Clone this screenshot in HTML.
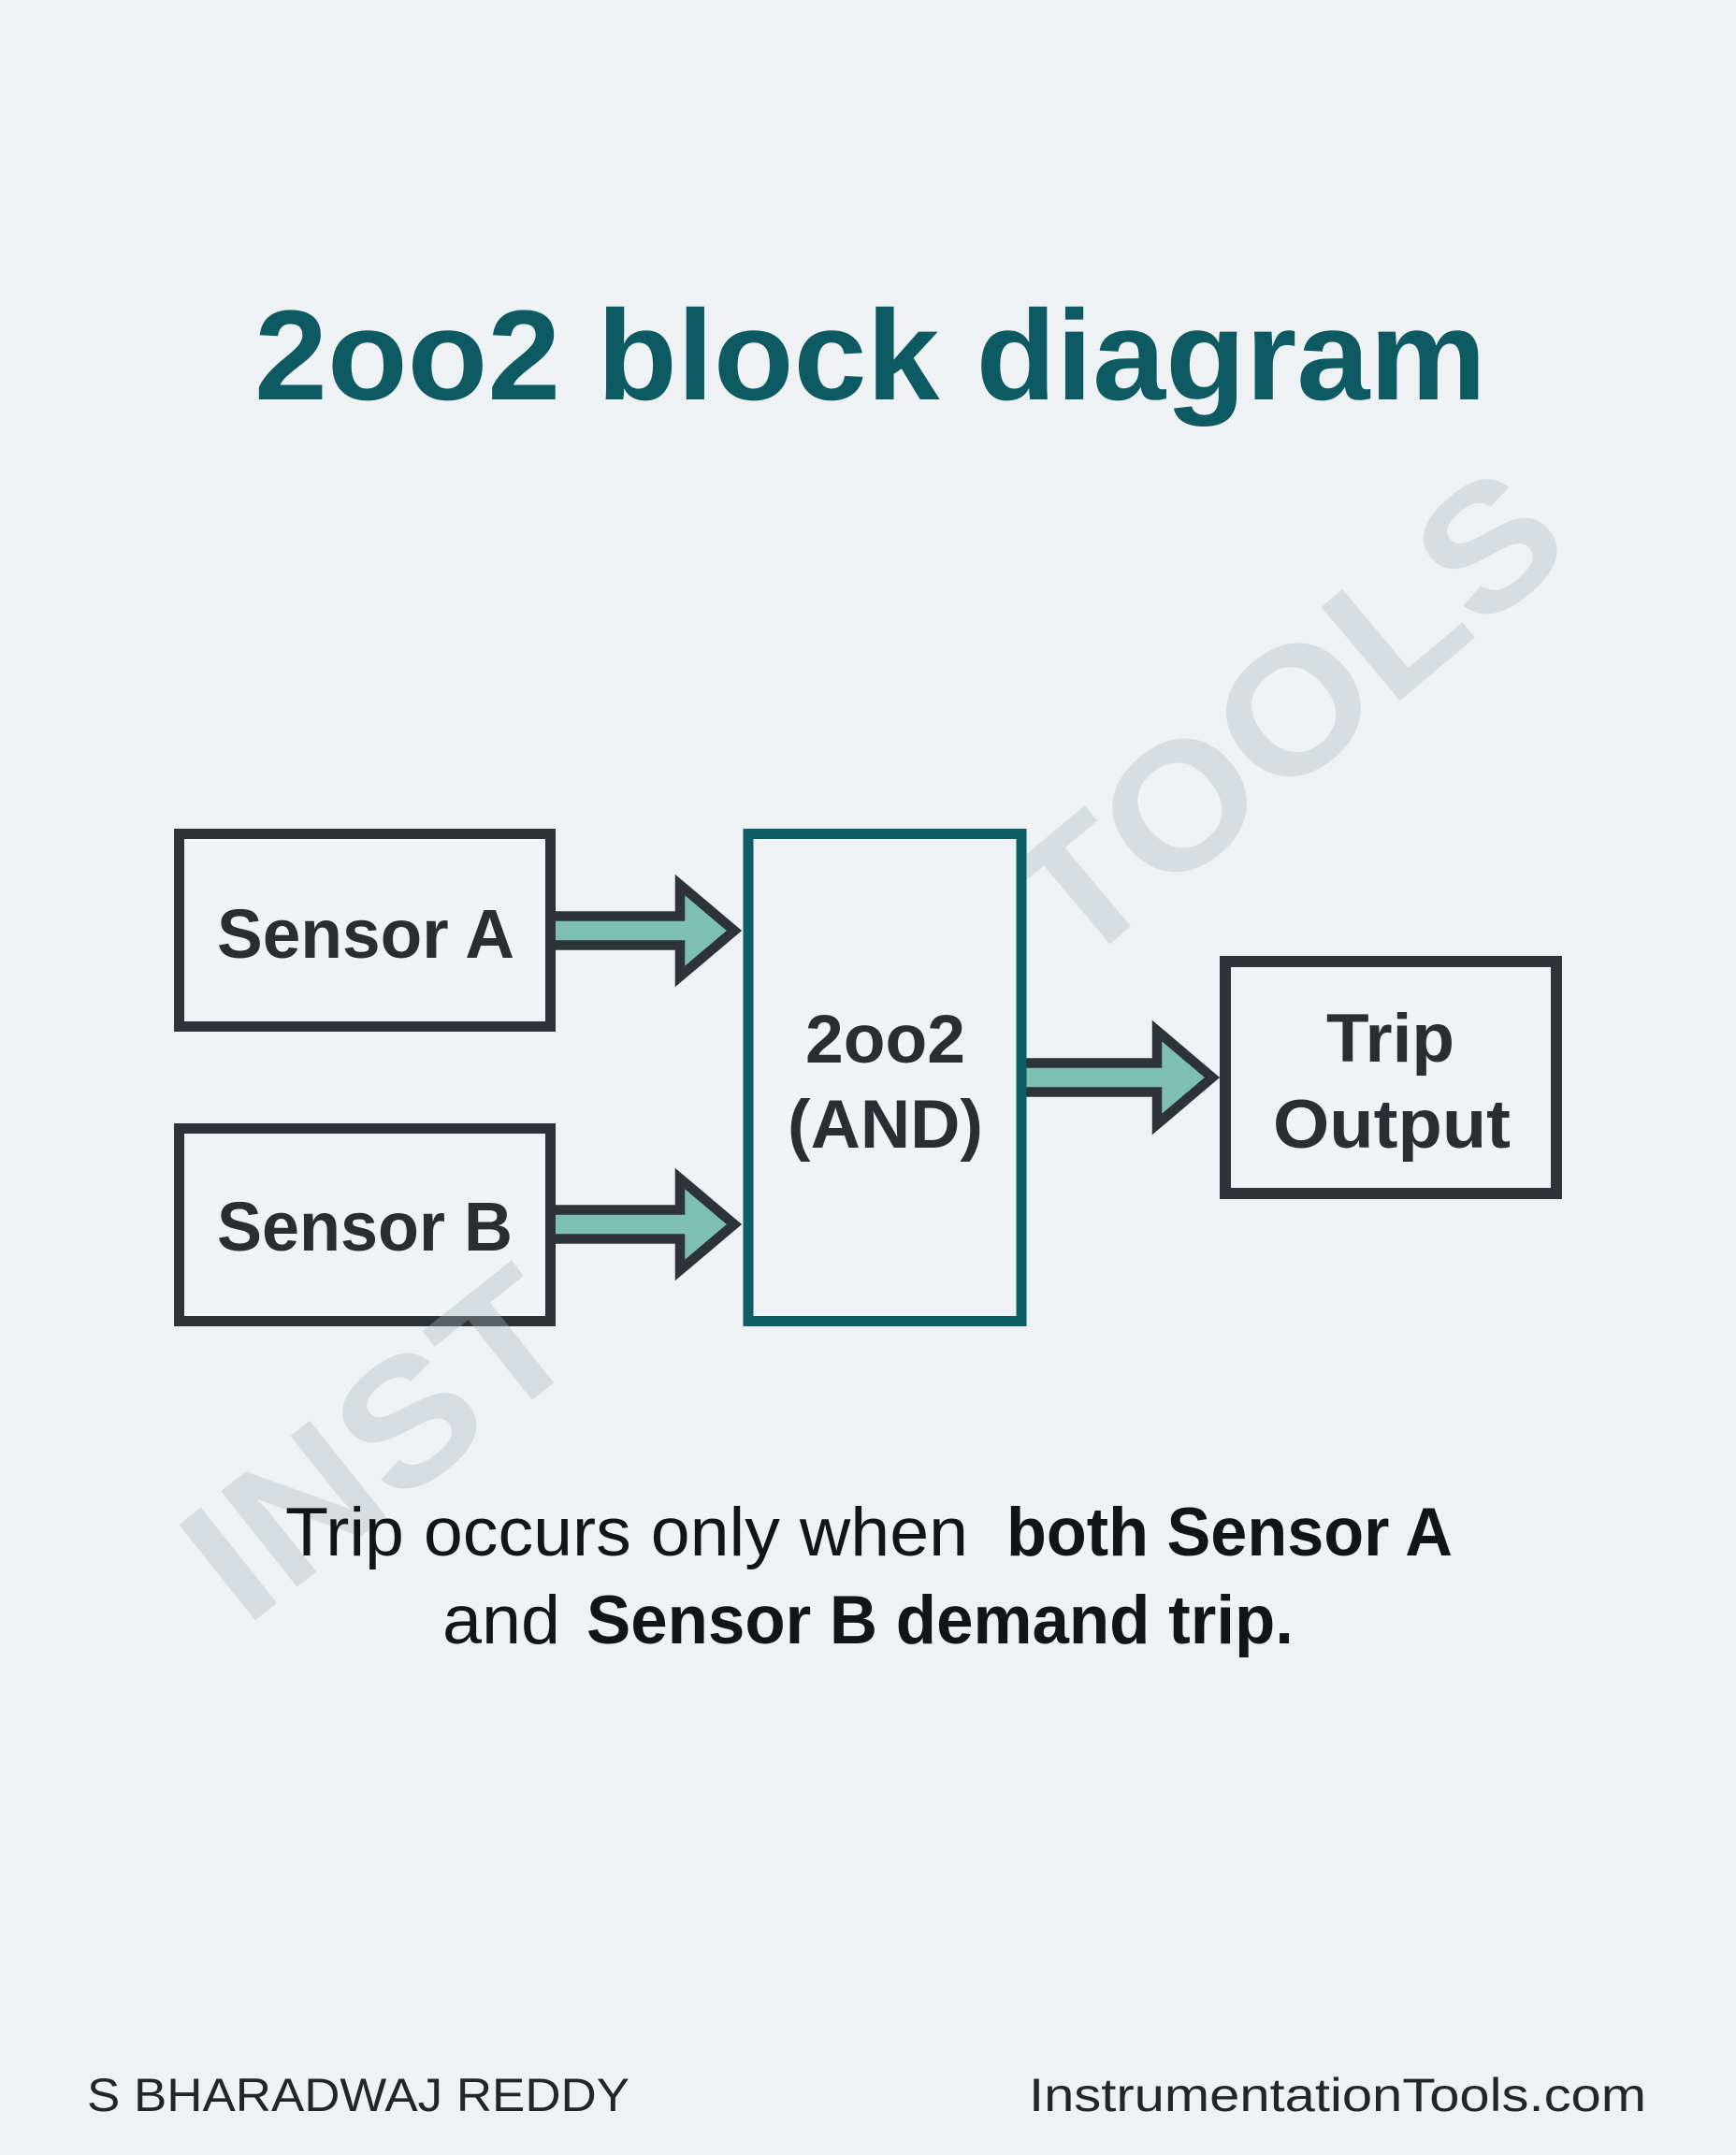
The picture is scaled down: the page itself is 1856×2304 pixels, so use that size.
<!DOCTYPE html>
<html>
<head>
<meta charset="utf-8">
<style>
  html, body { margin: 0; padding: 0; background: #eef2f5; }
  svg { display: block; }
  text { font-family: "Liberation Sans", "DejaVu Sans", sans-serif; }
</style>
</head>
<body>
<svg width="1856" height="2304" viewBox="0 0 1856 2304" xmlns="http://www.w3.org/2000/svg">
  <rect x="0" y="0" width="1856" height="2304" fill="#eef2f5"/>

  <!-- Title -->
  <text x="272" y="427" font-size="137" font-weight="bold" fill="#0e5a62" textLength="1317" lengthAdjust="spacingAndGlyphs">2oo2 block diagram</text>

  <!-- Watermark TOOLS (behind boxes) -->
  <g transform="translate(1150,1040) rotate(-40)">
    <text x="0" y="0" font-size="190" font-weight="bold" fill="#d7dde0" textLength="700" lengthAdjust="spacingAndGlyphs">TOOLS</text>
  </g>

  <!-- Arrows -->
  <g fill="#7dbfb1" stroke="#2d3338" stroke-width="10.5" stroke-linejoin="miter" stroke-miterlimit="10">
    <polygon points="580,979.5 727,979.5 727,946 785,995 727,1044 727,1010.5 580,1010.5"/>
    <polygon points="580,1293.5 727,1293.5 727,1260 785,1309 727,1358 727,1324.5 580,1324.5"/>
    <polygon points="1090,1136.5 1237,1136.5 1237,1102 1296,1152 1237,1202 1237,1167.5 1090,1167.5"/>
  </g>

  <!-- Boxes -->
  <rect x="191.5" y="891.5" width="397" height="206" fill="#eff3f6" stroke="#2d3338" stroke-width="11"/>
  <rect x="191.5" y="1206.5" width="397" height="206" fill="#eff3f6" stroke="#2d3338" stroke-width="11"/>
  <rect x="800" y="891.5" width="292" height="521" fill="#eff3f6" stroke="#0b5e63" stroke-width="11"/>
  <rect x="1310" y="1028" width="354" height="248" fill="#eff3f6" stroke="#2d3338" stroke-width="12"/>

  <!-- Watermark INST (semi-transparent overlay) -->
  <g transform="translate(262,1741) rotate(-38.5)">
    <text x="0" y="0" font-size="190" font-weight="bold" fill="#a9b4ba" fill-opacity="0.35" textLength="470" lengthAdjust="spacingAndGlyphs">INST</text>
  </g>

  <!-- Box labels -->
  <g font-weight="bold" fill="#2a2e33">
    <text x="232" y="1024" font-size="74" textLength="318" lengthAdjust="spacingAndGlyphs">Sensor A</text>
    <text x="232" y="1337" font-size="74" textLength="316" lengthAdjust="spacingAndGlyphs">Sensor B</text>
    <text x="861" y="1136" font-size="73" textLength="171" lengthAdjust="spacingAndGlyphs">2oo2</text>
    <text x="842" y="1227" font-size="73" textLength="209" lengthAdjust="spacingAndGlyphs">(AND)</text>
    <text x="1418" y="1135" font-size="73" textLength="137" lengthAdjust="spacingAndGlyphs">Trip</text>
    <text x="1361" y="1227" font-size="73" textLength="254" lengthAdjust="spacingAndGlyphs">Output</text>
  </g>

  <!-- Caption -->
  <g fill="#121416" font-size="73">
    <text x="305" y="1663" textLength="730" lengthAdjust="spacingAndGlyphs">Trip occurs only when</text>
    <text x="1076" y="1663" font-weight="bold" textLength="477" lengthAdjust="spacingAndGlyphs">both Sensor A</text>
    <text x="473" y="1757" textLength="126" lengthAdjust="spacingAndGlyphs">and</text>
    <text x="627" y="1757" font-weight="bold" textLength="756" lengthAdjust="spacingAndGlyphs">Sensor B demand trip.</text>
  </g>

  <!-- Footer -->
  <g fill="#222629" font-size="50">
    <text x="93" y="2257" textLength="580" lengthAdjust="spacingAndGlyphs">S BHARADWAJ REDDY</text>
    <text x="1100" y="2257" textLength="660" lengthAdjust="spacingAndGlyphs">InstrumentationTools.com</text>
  </g>
</svg>
</body>
</html>
